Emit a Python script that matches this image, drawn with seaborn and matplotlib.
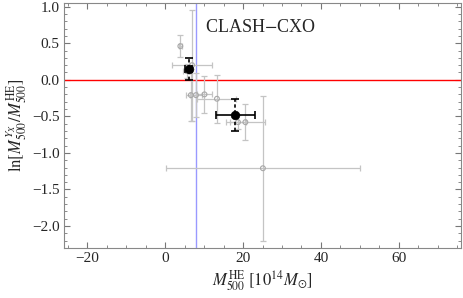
import numpy as np
import pandas as pd
import matplotlib
matplotlib.use("Agg")
import matplotlib.pyplot as plt
import seaborn as sns
from matplotlib.ticker import MultipleLocator, FuncFormatter

sns.set_theme(style="white")
plt.rcParams['font.family'] = ['Liberation Serif', 'DejaVu Serif']
plt.rcParams['mathtext.fontset'] = 'stix'

# ============================================================
# DATOS
# ============================================================
# muestra individual (gris)
gris_x = [3.9, 6.9, 5.5, 6.6, 7.9, 10.1, 13.3, 18.7, 20.6, 25.1]
gris_y = [0.46, 0.20, 0.12, -0.21, -0.21, -0.20, -0.26, -0.58, -0.58, -1.21]
gris_xerr = [0.3, 5.2, 1.0, 1.2, 1.5, 2.0, 5.0, 2.0, 5.0, 25.0]
gris_yerr = [0.15, 0.76, 0.10, 0.36, 0.30, 0.25, 0.33, 0.10, 0.25, 0.99]

# medias (negro)
media_x = [6.0, 18.0]
media_y = [0.15, -0.48]
media_xerr = [0.8, 5.0]
media_yerr = [0.15, 0.22]

linea_x = 8.0
etiqueta = "CLASH$-$CXO"

df_gris = pd.DataFrame({'x': gris_x, 'y': gris_y})
df_media = pd.DataFrame({'x': media_x, 'y': media_y})

# ============================================================
# FIGURA
# ============================================================
fig = plt.figure(figsize=(4.63, 2.98), dpi=100)
ax = fig.add_axes([0.138, 0.168, 0.858, 0.822])

ax.axhline(0, color='red', lw=1.0, zorder=1)
ax.axvline(linea_x, color='#9999ff', lw=1.0, zorder=1)

ax.errorbar(gris_x, gris_y, xerr=gris_xerr, yerr=gris_yerr, fmt='none',
            ecolor='#c4c4c4', elinewidth=0.9, capsize=2, capthick=0.9, zorder=2)
sns.scatterplot(data=df_gris, x='x', y='y', ax=ax, marker='o', s=12,
                facecolor='none', edgecolor='#a8a8a8', linewidth=0.8, zorder=3)

# barras de error de las medias: horizontal solida, vertical discontinua
ax.errorbar(media_x, media_y, xerr=media_xerr, fmt='none', ecolor='black',
            elinewidth=1.2, capsize=3, capthick=1.2, zorder=4)
eb = ax.errorbar(media_x, media_y, yerr=media_yerr, fmt='none', ecolor='black',
                 elinewidth=1.2, capsize=3, capthick=1.2, zorder=4)
eb[2][0].set_linestyle((0, (2, 1.5)))
sns.scatterplot(data=df_media, x='x', y='y', ax=ax, marker='o', s=38,
                color='black', edgecolor='black', zorder=5)

ax.text(0.355, 0.935, etiqueta, transform=ax.transAxes, fontsize=13,
        ha='left', va='top')

ax.set_xlim(-26, 76)
ax.set_ylim(-2.3, 1.05)
ax.xaxis.set_major_locator(MultipleLocator(20))
ax.xaxis.set_minor_locator(MultipleLocator(5))
ax.yaxis.set_major_locator(MultipleLocator(0.5))
ax.yaxis.set_minor_locator(MultipleLocator(0.1))
ax.yaxis.set_major_formatter(FuncFormatter(
    lambda v, p: f"{v:.1f}".replace('-', '\u2212')))
ax.xaxis.set_major_formatter(FuncFormatter(
    lambda v, p: f"{v:.0f}".replace('-', '\u2212')))

ax.tick_params(which='both', direction='in', bottom=True, left=True,
               top=True, right=True, color='#777777', labelsize=11, pad=3)
ax.tick_params(which='major', length=4, width=0.8)
ax.tick_params(which='minor', length=2, width=0.6)
for s in ax.spines.values():
    s.set_color('#888888')
    s.set_linewidth(0.8)

ax.set_xlabel(r'$M_{500}^{\rm HE}\ [10^{14}M_{\odot}]$', fontsize=12, labelpad=2)
ax.set_ylabel(r'$\ln[M_{500}^{Y_X}/M_{500}^{\rm HE}]$', fontsize=12, labelpad=2)

fig.savefig('out.png', dpi=100)
plt.close(fig)
